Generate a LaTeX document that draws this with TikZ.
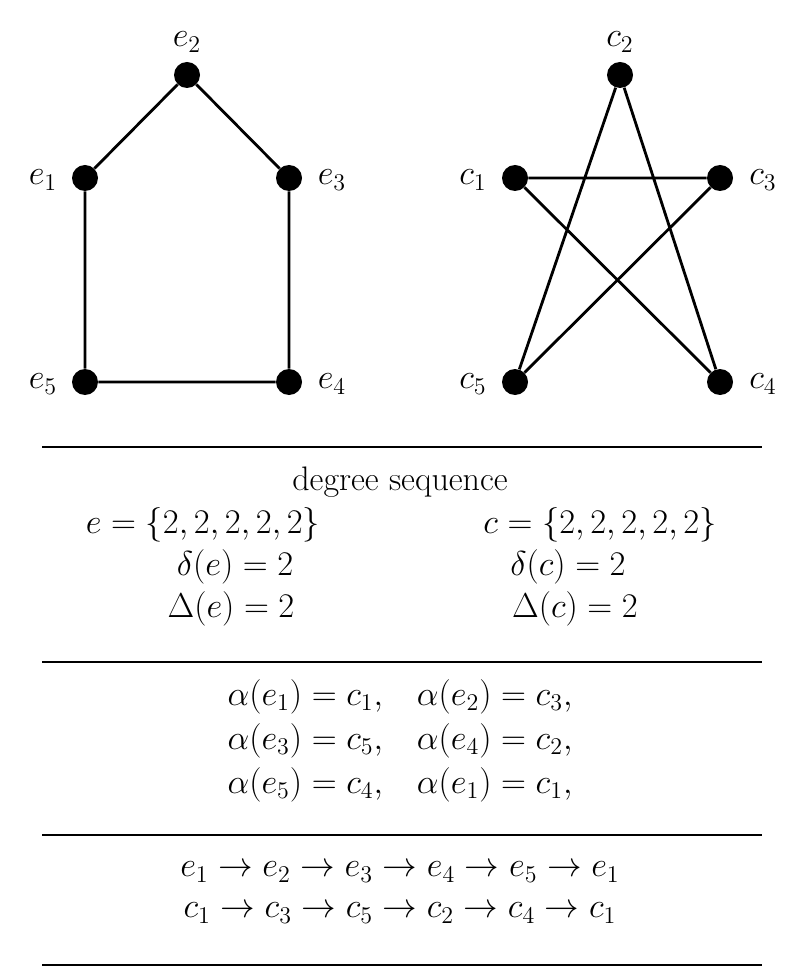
\documentclass[tikz,border=0pt]{standalone}
\usepackage{amsmath}
\begin{document}
\begin{tikzpicture}[x=0.5pt,y=-0.5pt,
  dot/.style={circle,fill=black,inner sep=0pt,minimum size=13pt},
  edge/.style={line width=1.4pt},
  rule/.style={line width=0.8pt},
  lbl/.style={font=\fontsize{17}{20}\selectfont}]
\useasboundingbox (0,0) rectangle (800,978);
\node[dot] (e2) at (187,75) {};
\node[dot] (e1) at (85,178) {};
\node[dot] (e3) at (289,178) {};
\node[dot] (e5) at (85,382) {};
\node[dot] (e4) at (289,382) {};
\node[dot] (c2) at (620,75) {};
\node[dot] (c1) at (515,178) {};
\node[dot] (c3) at (720,178) {};
\node[dot] (c5) at (515,382) {};
\node[dot] (c4) at (720,382) {};
\node[lbl] (le2) at (187,42) {$e_2$};
\node[lbl] (le1) at (43,180) {$e_1$};
\node[lbl] (le3) at (332,180) {$e_3$};
\node[lbl] (le5) at (43,384) {$e_5$};
\node[lbl] (le4) at (332,384) {$e_4$};
\node[lbl] (lc2) at (620,42) {$c_2$};
\node[lbl] (lc1) at (473,180) {$c_1$};
\node[lbl] (lc3) at (763,180) {$c_3$};
\node[lbl] (lc5) at (473,384) {$c_5$};
\node[lbl] (lc4) at (763,384) {$c_4$};
\draw[edge] (e1)--(e2)--(e3)--(e4)--(e5)--(e1);
\draw[edge] (c1)--(c3)--(c5)--(c2)--(c4)--(c1);
\coordinate (r1a) at (42,447); \coordinate (r1b) at (762,447);
\coordinate (r2a) at (42,662); \coordinate (r2b) at (762,662);
\coordinate (r3a) at (42,835); \coordinate (r3b) at (762,835);
\coordinate (r4a) at (42,965); \coordinate (r4b) at (762,965);
\draw[rule] (r1a)--(r1b); \draw[rule] (r2a)--(r2b);
\draw[rule] (r3a)--(r3b); \draw[rule] (r4a)--(r4b);
\node[lbl] (ds) at (400,482) {degree sequence};
\node[lbl] (se) at (203,525) {$e=\{2,2,2,2,2\}$};
\node[lbl] (sc) at (600,525) {$c=\{2,2,2,2,2\}$};
\node[lbl] (de) at (235,567) {$\delta(e)=2$};
\node[lbl] (dc) at (568,567) {$\delta(c)=2$};
\node[lbl] (De) at (231,609) {$\Delta(e)=2$};
\node[lbl] (Dc) at (575,609) {$\Delta(c)=2$};
\node[lbl] (al) at (400,741) {$\begin{array}{@{}l@{\quad}l@{}}
\alpha(e_1)=c_1, & \alpha(e_2)=c_3,\\[2pt]
\alpha(e_3)=c_5, & \alpha(e_4)=c_2,\\[2pt]
\alpha(e_5)=c_4, & \alpha(e_1)=c_1,
\end{array}$};
\node[lbl] (pe) at (400,872) {$e_1\to e_2\to e_3\to e_4\to e_5\to e_1$};
\node[lbl] (pc) at (400,913) {$c_1\to c_3\to c_5\to c_2\to c_4\to c_1$};
\end{tikzpicture}
\end{document}
